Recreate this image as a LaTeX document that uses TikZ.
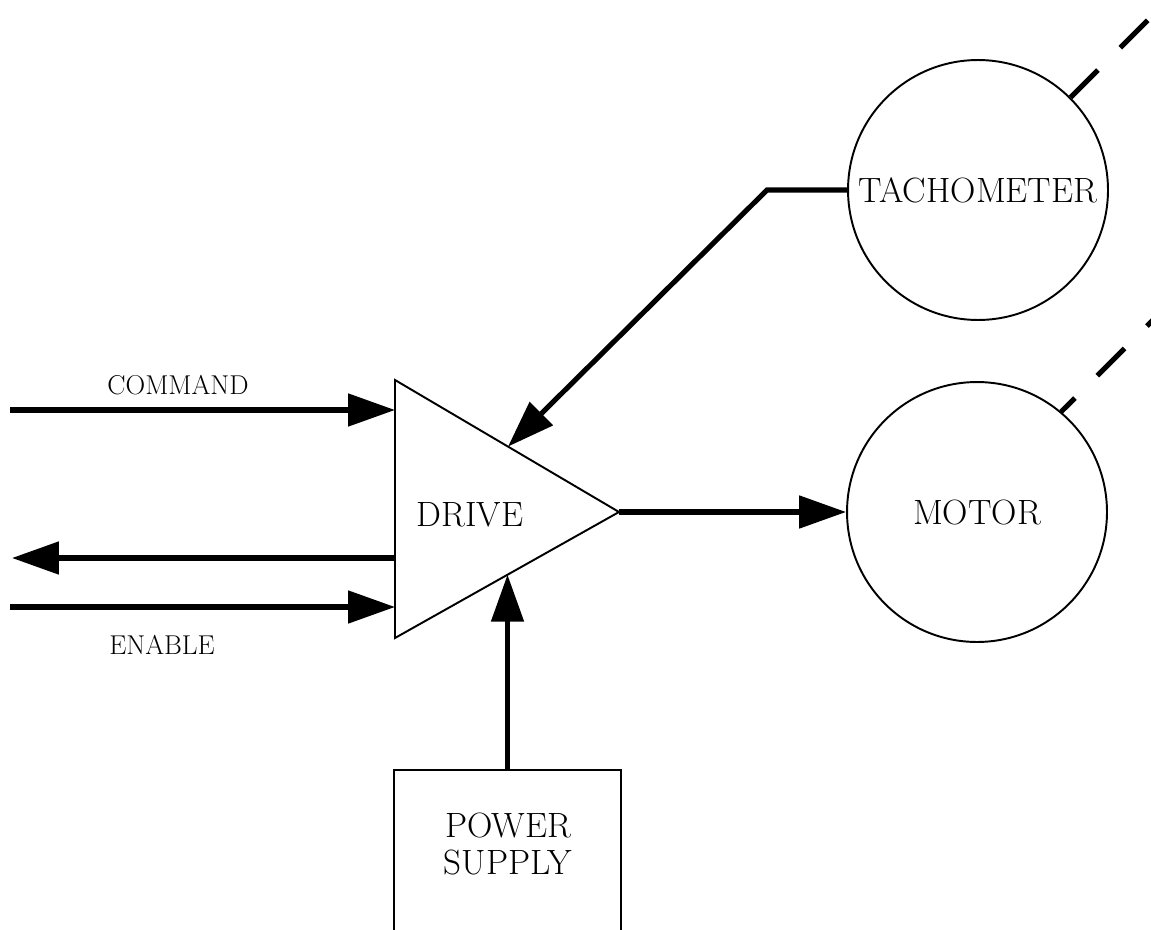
\documentclass[tikz,border=0pt]{standalone}
\usetikzlibrary{arrows.meta}
\begin{document}
\begin{tikzpicture}[x=0.02cm,y=-0.02cm]

    \tikzset{
      sig/.style={
        line width=2.9pt,
        -{Triangle[length=0.94cm,width=0.64cm]},
      },
      shaft/.style={
        line width=2.9pt,
        dash pattern=on 22pt off 18pt,
      },
      unit/.style={
        draw,
        circle,
        line width=1.1pt,
        minimum size=5.2cm,
        inner sep=0pt,
        font=\fontsize{20}{23}\selectfont,
      },
      supplybox/.style={
        draw,
        line width=1.1pt,
        minimum width=4.54cm,
        minimum height=4cm,
        inner sep=0pt,
      },
      biglabel/.style={
        inner sep=0pt,
        align=center,
        font=\fontsize{20}{21.5}\selectfont,
      },
      smalllabel/.style={
        inner sep=0pt,
        font=\fontsize{15.5}{18}\selectfont,
      },
    }
    \useasboundingbox (0,0) rectangle (1151,929);
    \clip (0,0) rectangle (1151,929);

	\coordinate (drvtl) at (395,380);
	\coordinate (drvbl) at (395,638);
	\coordinate (drvtip) at (619,512);
	\draw[line width=1.1pt, line join=miter] (drvtl)--(drvtip)--(drvbl)--cycle;
	\node[biglabel] (drive) at (470,515) {DRIVE};

	\node[unit] (tach) at (978,190) {TACHOMETER};
	\node[unit] (motor) at (977,512) {MOTOR};

	\node[supplybox] (psu) at (507.5,870) {};
	\node[biglabel] (psutext) at (508,844) {POWER\\SUPPLY};

	\coordinate (cmdin) at (395,410);
	\coordinate (statin) at (395,558);
	\coordinate (enin) at (395,607);
	\coordinate (cmdsrc) at (10,410);
	\coordinate (statout) at (12,558);
	\coordinate (ensrc) at (10,607);
	\coordinate (fbin) at (508,446.6);
	\coordinate (fbbend) at (767,190);
	\coordinate (psin) at (507.5,574.7);
	\coordinate (tachend) at (1160,8);
	\coordinate (motorend) at (1171,302);

	\draw[sig] (cmdsrc)--(cmdin);
	\draw[sig] (statin)--(statout);
	\draw[sig] (ensrc)--(enin);
	\draw[sig] (drvtip)--(motor.west);
	\draw[sig] (psu.north)--(psin);
	\draw[sig, line join=miter] (tach.west)--(fbbend)--(fbin);

	\draw[shaft] (tach.45)--(tachend);
	\draw[shaft, dash phase=11pt] (motor.50)--(motorend);

	\node[smalllabel] (cmdlabel) at (178,385) {COMMAND};
	\node[smalllabel] (enlabel) at (162,645) {ENABLE};

\end{tikzpicture}
\end{document}
